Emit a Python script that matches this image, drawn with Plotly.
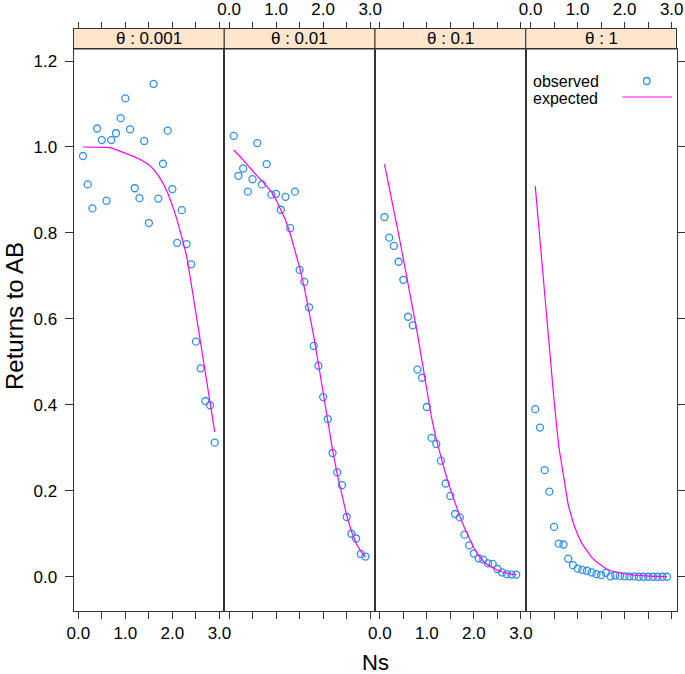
import plotly.graph_objects as go

# ---------------- data ----------------
ns = [0.1, 0.2, 0.3, 0.4, 0.5, 0.6, 0.7, 0.8, 0.9, 1.0,
      1.1, 1.2, 1.3, 1.4, 1.5, 1.6, 1.7, 1.8, 1.9, 2.0,
      2.1, 2.2, 2.3, 2.4, 2.5, 2.6, 2.7, 2.8, 2.9]

panel_labels = ["\u03b8 : 0.001", "\u03b8 : 0.01", "\u03b8 : 0.1", "\u03b8 : 1"]

obs_0001 = [0.979, 0.913, 0.857, 1.043, 1.016, 0.875, 1.016, 1.032, 1.067, 1.113,
            1.041, 0.904, 0.881, 1.014, 0.823, 1.147, 0.880, 0.961, 1.038, 0.902,
            0.777, 0.853, 0.774, 0.727, 0.547, 0.485, 0.409, 0.399, 0.312]
obs_001 = [1.026, 0.933, 0.950, 0.896, 0.925, 1.009, 0.913, 0.960, 0.889, 0.891,
           0.854, 0.884, 0.811, 0.896, 0.714, 0.686, 0.627, 0.537, 0.491, 0.418,
           0.367, 0.288, 0.243, 0.213, 0.139, 0.100, 0.089, 0.053, 0.047]
obs_01 = [0.837, 0.789, 0.770, 0.733, 0.691, 0.605, 0.585, 0.482, 0.463, 0.395,
          0.323, 0.309, 0.270, 0.217, 0.188, 0.146, 0.138, 0.098, 0.073, 0.054,
          0.043, 0.040, 0.031, 0.030, 0.018, 0.010, 0.006, 0.005, 0.005]
obs_1 = [0.390, 0.347, 0.248, 0.198, 0.116, 0.077, 0.075, 0.042, 0.027, 0.019,
         0.016, 0.014, 0.010, 0.006, 0.004, 0.009, 0.001, 0.003, 0.002, 0.001,
         0.001, 0.001, 0.000, 0.000, 0.000, 0.000, 0.000, 0.000, 0.000]

exp_0001 = [1.000, 1.000, 1.000, 1.000, 1.000, 0.999, 0.998, 0.994, 0.990, 0.985,
            0.981, 0.977, 0.972, 0.966, 0.959, 0.948, 0.934, 0.916, 0.893, 0.864,
            0.830, 0.790, 0.748, 0.682, 0.613, 0.544, 0.475, 0.406, 0.337]
exp_001 = [0.993, 0.982, 0.970, 0.957, 0.944, 0.932, 0.921, 0.909, 0.896, 0.877,
           0.855, 0.830, 0.798, 0.760, 0.720, 0.673, 0.620, 0.560, 0.495, 0.425,
           0.360, 0.295, 0.238, 0.188, 0.143, 0.106, 0.078, 0.059, 0.046]
exp_01 = [0.960, 0.908, 0.853, 0.797, 0.740, 0.683, 0.625, 0.565, 0.500, 0.430,
          0.370, 0.320, 0.277, 0.239, 0.204, 0.171, 0.141, 0.114, 0.089, 0.067,
          0.049, 0.036, 0.027, 0.020, 0.015, 0.011, 0.008, 0.006, 0.005]
exp_1 = [0.909, 0.780, 0.660, 0.540, 0.410, 0.303, 0.232, 0.168, 0.128, 0.098,
         0.076, 0.059, 0.045, 0.035, 0.026, 0.019, 0.014, 0.011, 0.009, 0.007,
         0.005, 0.004, 0.003, 0.002, 0.002, 0.001, 0.001, 0.001, 0.000]

x_tickvals = [0.0, 0.5, 1.0, 1.5, 2.0, 2.5, 3.0]
x_ticktext = ["0.0", "", "1.0", "", "2.0", "", "3.0"]
y_tickvals = [0.0, 0.2, 0.4, 0.6, 0.8, 1.0, 1.2]
y_ticktext = ["0.0", "0.2", "0.4", "0.6", "0.8", "1.0", "1.2"]

observed = [obs_0001, obs_001, obs_01, obs_1]
expected = [exp_0001, exp_001, exp_01, exp_1]

# ---------------- layout geometry ----------------
W, H = 685, 674
LEFT, PW = 73.5, 150.75
TOP, BOTTOM = 49.0, 610.7
STRIP_TOP = 28.5
XR = [-0.102, 3.102]
YR = [-0.079, 1.228]
FONT = "Liberation Sans, Arial, Helvetica, sans-serif"
TICK_SIZE = 17
OBS_COL = "#2f8fea"
EXP_COL = "#ff00ff"
FRAME = "#333333"

def px_x(v):
    return v / W

def px_y(v):
    return 1 - v / H

fig = go.Figure()
layout = dict(
    width=W, height=H,
    margin=dict(l=0, r=0, t=0, b=0, autoexpand=False),
    paper_bgcolor="white", plot_bgcolor="white",
    showlegend=False,
    font=dict(family=FONT, size=TICK_SIZE, color="black"),
)

shapes = []
annotations = []

for i in range(4):
    k = i + 1
    xs = "" if k == 1 else str(k)
    xd = [px_x(LEFT + i * PW), px_x(LEFT + (i + 1) * PW)]
    yd = [px_y(BOTTOM), px_y(TOP)]

    layout["xaxis" + xs] = dict(
        domain=xd, range=XR, anchor="y" + xs, automargin=False,
        tickmode="array", tickvals=x_tickvals, ticktext=x_ticktext,
        ticks="outside", ticklen=7, tickwidth=1, tickcolor=FRAME,
        showline=True, mirror=True, linecolor=FRAME, linewidth=1,
        showgrid=False, zeroline=False,
        showticklabels=(k in (1, 3)),
        tickfont=dict(size=TICK_SIZE, family=FONT, color="black"),
    )
    ycfg = dict(
        domain=yd, range=YR, anchor="x" + xs, automargin=False,
        showline=True, mirror=True, linecolor=FRAME, linewidth=1,
        showgrid=False, zeroline=False,
        tickmode="array", tickvals=y_tickvals, ticktext=y_ticktext,
        tickfont=dict(size=TICK_SIZE, family=FONT, color="black"),
    )
    if k == 1:
        ycfg.update(ticks="outside", ticklen=8, tickcolor=FRAME,
                    showticklabels=True, ticklabelstandoff=4)
    elif k == 4:
        ycfg.update(side="right", ticks="outside", ticklen=8, tickcolor=FRAME,
                    showticklabels=False)
    else:
        ycfg.update(ticks="", showticklabels=False)
    layout["yaxis" + xs] = ycfg

    # top axis (free, above strip)
    tk = str(k + 4)
    layout["xaxis" + tk] = dict(
        overlaying="x" + xs, anchor="free", position=px_y(STRIP_TOP),
        side="top", range=XR, automargin=False,
        tickmode="array", tickvals=x_tickvals, ticktext=x_ticktext,
        ticks="outside", ticklen=7, tickwidth=1, tickcolor=FRAME,
        showline=False, showgrid=False, zeroline=False,
        showticklabels=(k in (2, 4)),
        tickfont=dict(size=TICK_SIZE, family=FONT, color="black"),
    )
    fig.add_trace(go.Scatter(x=[], y=[], xaxis="x" + tk, yaxis="y" + xs,
                             hoverinfo="skip", showlegend=False))

    # data
    fig.add_trace(go.Scatter(
        x=ns, y=observed[i], mode="markers",
        marker=dict(symbol="circle-open", size=7, color=OBS_COL,
                    line=dict(width=1.3, color=OBS_COL)),
        xaxis="x" + xs, yaxis="y" + xs, name="observed"))
    fig.add_trace(go.Scatter(
        x=ns, y=expected[i], mode="lines",
        line=dict(color=EXP_COL, width=1.2),
        xaxis="x" + xs, yaxis="y" + xs, name="expected"))

    # strip
    shapes.append(dict(type="rect", xref="paper", yref="paper",
                       x0=xd[0], x1=xd[1], y0=px_y(TOP), y1=px_y(STRIP_TOP),
                       fillcolor="#ffe5cc", line=dict(color=FRAME, width=1),
                       layer="below"))
    annotations.append(dict(text=panel_labels[i], xref="paper", yref="paper",
                            x=(xd[0] + xd[1]) / 2, y=px_y((TOP + STRIP_TOP) / 2),
                            xanchor="center", yanchor="middle", showarrow=False,
                            font=dict(size=17, family=FONT, color="black")))

# axis titles
annotations.append(dict(text="Ns", xref="paper", yref="paper",
                        x=px_x(LEFT + 2 * PW), y=px_y(662), xanchor="center",
                        yanchor="middle", showarrow=False,
                        font=dict(size=22, family=FONT, color="black")))
annotations.append(dict(text="Returns to AB", xref="paper", yref="paper",
                        x=px_x(14), y=px_y(316), xanchor="center",
                        yanchor="middle", showarrow=False, textangle=-90,
                        font=dict(size=24, family=FONT, color="black")))

# key
annotations.append(dict(text="observed", xref="paper", yref="paper",
                        x=px_x(531), y=px_y(81.5), xanchor="left", yanchor="middle",
                        showarrow=False, font=dict(size=16, family=FONT, color="black")))
annotations.append(dict(text="expected", xref="paper", yref="paper",
                        x=px_x(531), y=px_y(98.5), xanchor="left", yanchor="middle",
                        showarrow=False, font=dict(size=16, family=FONT, color="black")))
shapes.append(dict(type="circle", xref="paper", yref="paper",
                   x0=px_x(643.5), x1=px_x(650), y0=px_y(84.5), y1=px_y(77.5),
                   line=dict(color=OBS_COL, width=1.3)))
shapes.append(dict(type="line", xref="paper", yref="paper",
                   x0=px_x(622.5), x1=px_x(672), y0=px_y(97), y1=px_y(97),
                   line=dict(color=EXP_COL, width=1.2)))

layout["shapes"] = shapes
layout["annotations"] = annotations
fig.update_layout(**layout)

fig.write_html("out.html",
               config={"displayModeBar": False},
               post_script="document.body.style.margin='0';"
                           "document.body.style.overflow='hidden';")
